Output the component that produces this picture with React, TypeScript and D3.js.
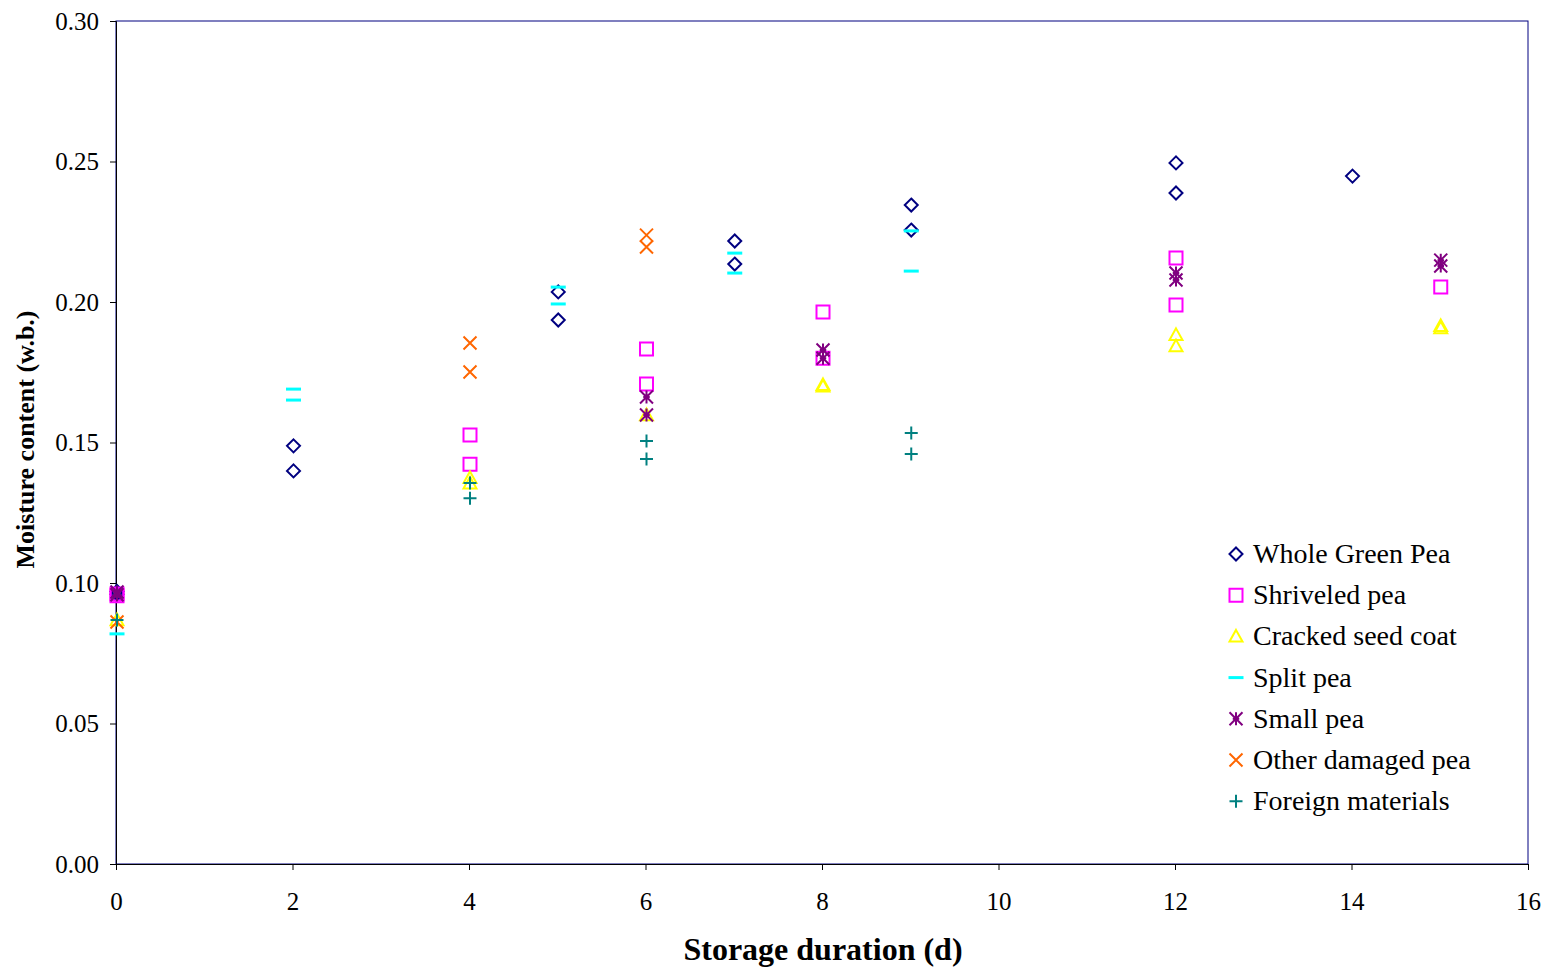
import React, { useEffect, useRef } from 'react';
import * as d3 from 'd3';

// storage duration (d) and moisture content (w.b.) for each sample type
const wholeDays = [0, 0, 2, 2, 5, 5, 7, 7, 9, 9, 12, 12, 14];
const wholeVals = [0.096, 0.097, 0.1488, 0.1399, 0.2036, 0.1936, 0.2217, 0.2135, 0.2345, 0.2256, 0.2495, 0.2388, 0.2448];

const shrivDays = [0, 0, 4, 4, 6, 6, 8, 8, 12, 12, 15];
const shrivVals = [0.0961, 0.0955, 0.1527, 0.1423, 0.1833, 0.1708, 0.1964, 0.180, 0.2157, 0.1989, 0.2053];

const crackDays = [0, 4, 4, 6, 8, 8, 12, 12, 15, 15];
const crackVals = [0.0868, 0.1374, 0.1355, 0.1598, 0.1705, 0.1700, 0.1883, 0.1843, 0.1915, 0.1907];

const splitDays = [0, 2, 2, 5, 5, 7, 7, 9, 9];
const splitVals = [0.0819, 0.169, 0.1651, 0.2053, 0.1993, 0.2174, 0.2103, 0.2253, 0.211];

const smallDays = [0, 0, 6, 6, 8, 8, 12, 12, 15, 15];
const smallVals = [0.0968, 0.0958, 0.1662, 0.1598, 0.1829, 0.180, 0.2103, 0.2078, 0.2149, 0.2128];

const otherDays = [0, 4, 4, 6, 6];
const otherVals = [0.0861, 0.1854, 0.1751, 0.2238, 0.2196];

const foreignDays = [0, 4, 4, 6, 6, 9, 9];
const foreignVals = [0.0868, 0.1356, 0.1302, 0.1505, 0.1441, 0.1534, 0.1459];

const xTicks = [0, 2, 4, 6, 8, 10, 12, 14, 16];
const yTicks = [0, 0.05, 0.1, 0.15, 0.2, 0.25, 0.3];

type Series = { name: string; days: number[]; vals: number[]; color: string; shape: string };

const series: Series[] = [
  { name: 'Whole Green Pea', days: wholeDays, vals: wholeVals, color: '#000080', shape: 'diamond' },
  { name: 'Shriveled pea', days: shrivDays, vals: shrivVals, color: '#FF00FF', shape: 'square' },
  { name: 'Cracked seed coat', days: crackDays, vals: crackVals, color: '#FFFF00', shape: 'triangle' },
  { name: 'Split pea', days: splitDays, vals: splitVals, color: '#00FFFF', shape: 'dash' },
  { name: 'Small pea', days: smallDays, vals: smallVals, color: '#800080', shape: 'star' },
  { name: 'Other damaged pea', days: otherDays, vals: otherVals, color: '#FF6600', shape: 'x' },
  { name: 'Foreign materials', days: foreignDays, vals: foreignVals, color: '#008080', shape: 'plus' },
];

function markerPath(shape: string, s: number): string {
  const h = s / 2;
  switch (shape) {
    case 'diamond':
      return `M0,${-h}L${h},0L0,${h}L${-h},0Z`;
    case 'square':
      return `M${-h},${-h}H${h}V${h}H${-h}Z`;
    case 'triangle':
      return `M0,${-h}L${h},${h * 0.8}H${-h}Z`;
    case 'dash':
      return `M${-h},0H${h}`;
    case 'star':
      return `M${-h},${-h}L${h},${h}M${-h},${h}L${h},${-h}M0,${-h}V${h}M${-h * 0.5},0H${h * 0.5}`;
    case 'x':
      return `M${-h},${-h}L${h},${h}M${-h},${h}L${h},${-h}`;
    case 'plus':
      return `M${-h},0H${h}M0,${-h}V${h}`;
  }
  return '';
}

const font = '"Liberation Serif", "Times New Roman", serif';

export default function App() {
  const ref = useRef<SVGSVGElement>(null);

  useEffect(() => {
    const svg = d3.select(ref.current);
    svg.selectAll('*').remove();

    const left = 116, right = 1528, top = 21, bottom = 864;
    const x = d3.scaleLinear().domain([0, 16]).range([left, right]);
    const y = d3.scaleLinear().domain([0, 0.3]).range([bottom, top]);

    // plot frame
    svg.append('rect')
      .attr('x', left).attr('y', top)
      .attr('width', right - left).attr('height', bottom - top)
      .attr('fill', 'white').attr('stroke', '#000080').attr('stroke-width', 1);

    const xAxis = svg.append('g')
      .attr('transform', `translate(0,${bottom})`)
      .call(d3.axisBottom(x).tickValues(xTicks).tickSize(6).tickFormat(d3.format('d')));
    xAxis.selectAll('text')
      .attr('font-family', font).attr('font-size', 25).attr('fill', '#000')
      .attr('y', 0).attr('dy', 0).attr('dominant-baseline', 'central')
      .attr('transform', 'translate(0,37)');

    const yAxis = svg.append('g')
      .attr('transform', `translate(${left},0)`)
      .call(d3.axisLeft(y).tickValues(yTicks).tickSize(6).tickFormat(d3.format('.2f')));
    yAxis.selectAll('text').attr('font-family', font).attr('font-size', 25).attr('fill', '#000').attr('x', -17);

    [xAxis, yAxis].forEach(a => {
      a.select('.domain').attr('stroke', '#000');
      a.selectAll('.tick line').attr('stroke', '#000');
    });

    svg.append('text')
      .attr('x', (left + right) / 2 + 1).attr('y', 960)
      .attr('text-anchor', 'middle')
      .attr('font-family', font).attr('font-size', 32).attr('font-weight', 'bold')
      .text('Storage duration (d)');

    svg.append('text')
      .attr('transform', `translate(34,${(top + bottom) / 2 - 3}) rotate(-90)`)
      .attr('text-anchor', 'middle')
      .attr('font-family', font).attr('font-size', 26).attr('font-weight', 'bold')
      .text('Moisture content (w.b.)');

    const sizeOf = (shape: string) => (shape === 'dash' ? 15 : 13);

    series.forEach(s => {
      const pts = s.days.map((d, i) => [d, s.vals[i]]);
      svg.append('g').selectAll('path')
        .data(pts)
        .enter().append('path')
        .attr('transform', d => `translate(${x(d[0]) + 1},${y(d[1])})`)
        .attr('d', markerPath(s.shape, sizeOf(s.shape)))
        .attr('fill', 'none')
        .attr('stroke', s.color)
        .attr('stroke-width', s.shape === 'dash' ? 3 : 2);
    });

    // legend
    const legend = svg.append('g').attr('transform', 'translate(1236,554)');
    series.forEach((s, i) => {
      const row = legend.append('g').attr('transform', `translate(0,${i * 41.2})`);
      row.append('path')
        .attr('d', markerPath(s.shape, sizeOf(s.shape)))
        .attr('fill', 'none').attr('stroke', s.color)
        .attr('stroke-width', s.shape === 'dash' ? 3 : 2);
      row.append('text')
        .attr('x', 17).attr('y', 9)
        .attr('font-family', font).attr('font-size', 28)
        .text(s.name);
    });
  }, []);

  return (
    <svg ref={ref} width={1550} height={969} style={{ display: 'block', position: 'absolute', left: 0, top: 0 }} />
  );
}
